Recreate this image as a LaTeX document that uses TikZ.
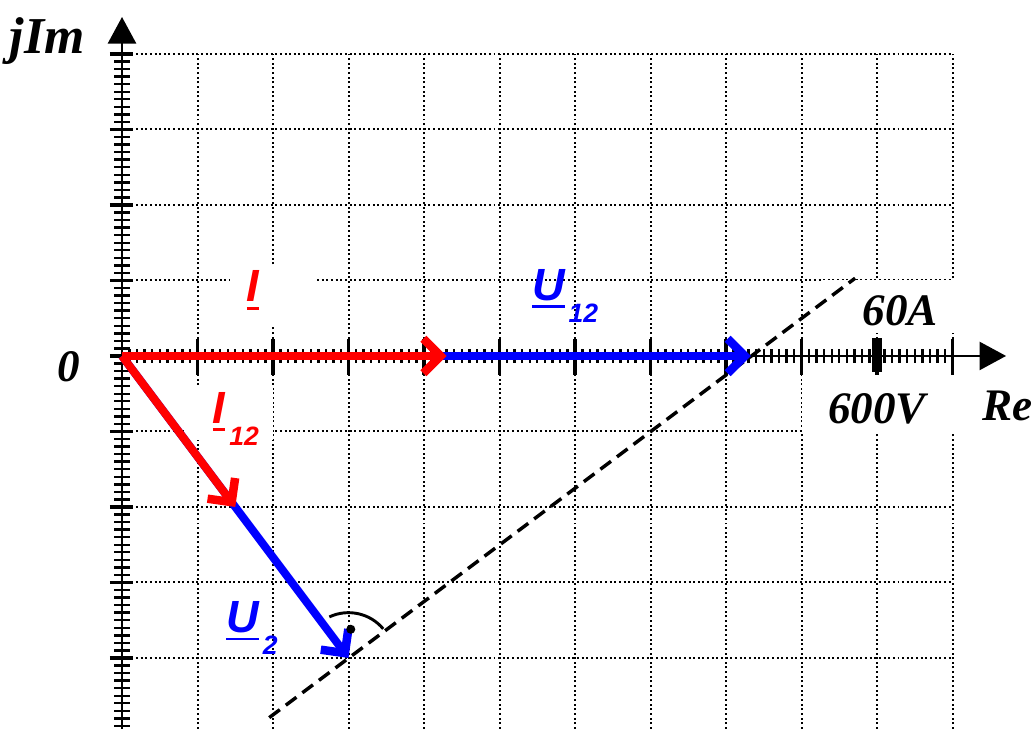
\documentclass[tikz,border=0pt]{standalone}
\usepackage{fontspec}
\setmainfont{Liberation Serif}
\newfontfamily\vecfont{Liberation Sans}
\usepackage{tikz}
\usetikzlibrary{arrows.meta}

% etichetta di vettore: lettera sottolineata con pedice
\newcommand{\sottolinea}[1]{\setbox0\hbox{#1}\rlap{\rule[-3pt]{\wd0}{1pt}}\box0}
\newcommand{\vett}[2]{\sottolinea{#1}\kern1.5pt\raisebox{-8.3pt}{\fontsize{10}{10}\selectfont #2}}

\tikzset{
    griglia/.style={densely dotted, line width=0.75pt, black},
    asse/.style={line width=1.1pt, -{Triangle[length=10pt,width=10.5pt]}},
    tacca/.style={line width=0.9pt},
    tacca grande/.style={line width=1.3pt},
    punta/.style={-{Straight Barb[length=6.5pt,width=13pt,line width=3.2pt]}},
    vettI/.style={red, line width=3pt, punta},
    vettU/.style={blue, line width=3pt, punta},
    ortogonale/.style={line width=1.3pt, dash pattern=on 5pt off 2.8pt},
    sfondo/.style={fill=white, draw=none},
    etiasse/.style={font=\bfseries\itshape\fontsize{17}{18}\selectfont, inner sep=0pt},
    etivett/.style={font=\vecfont\bfseries\itshape\fontsize{17}{18}\selectfont, inner sep=0pt, anchor=base west}
}

\begin{document}
\begin{tikzpicture}[x=1cm, y=1cm, line width=0.7pt]

        \useasboundingbox (-1.616,-4.94) rectangle (12.106,4.715);

        % -----------------------------------------------------------------
        % GRIGLIA DI SFONDO
        % -----------------------------------------------------------------
        \foreach \x in {1,...,11} {
            \draw[griglia] (\x, -5) -- (\x, 4);
        }
        \foreach \y in {-4,...,4} {
            \draw[griglia] (0, \y) -- (11, \y);
        }

        % riquadri bianchi sotto le etichette
        \fill[sfondo] (1.43,0.41) rectangle (2.58,1.21);
        \fill[sfondo] (0.83,-1.11) rectangle (2.0,-0.38);
        \fill[sfondo] (9.28,0.3) rectangle (11.02,1.0);
        \fill[sfondo] (9.0,-1.02) rectangle (11.02,-0.23);

        % -----------------------------------------------------------------
        % ASSI E TACCHE
        % -----------------------------------------------------------------
        \coordinate (O) at (0,0);
        \coordinate (fineRe) at (11.71,0);
        \coordinate (fineIm) at (0,4.49);
        \coordinate (inizioIm) at (0,-5);

        \draw[asse] (O) -- (fineRe);
        \draw[asse] (inizioIm) -- (fineIm);

        \foreach \i in {1,...,110} {
            \draw[tacca] (\i/10, -0.09) -- (\i/10, 0.09);
        }
        \foreach \x in {1,...,11} {
            \draw[tacca grande] (\x, -0.25) -- (\x, 0.23);
        }
        \foreach \i in {-50,...,40} {
            \draw[tacca] (-0.105, \i/10) -- (0.105, \i/10);
        }
        \foreach \y in {-4,...,4} {
            \draw[tacca grande] (-0.16, \y) -- (0.15, \y);
        }
        % segno di scala
        \fill (9.94,-0.21) rectangle (10.07,0.24);

        \node[etiasse, anchor=base west, font=\bfseries\itshape\fontsize{19.5}{20}\selectfont] (jim) at (-1.50,4.0) {jIm};
        \node[etiasse, anchor=base] (zero) at (-0.70,-0.34) {0};
        \node[etiasse, anchor=base west] (re) at (11.39,-0.85) {Re};
        \node[etiasse, anchor=base west] (scalaA) at (9.80,0.41) {60A};
        \node[etiasse, anchor=base west] (scalaV) at (9.34,-0.90) {600V};

        % -----------------------------------------------------------------
        % RETTA PERPENDICOLARE A U2
        % -----------------------------------------------------------------
        \coordinate (rettaA) at (1.95,-4.79);
        \coordinate (rettaB) at (9.71,1.03);
        \draw[ortogonale] (rettaA) -- (rettaB);

        % -----------------------------------------------------------------
        % VETTORI
        % -----------------------------------------------------------------
        \coordinate (Itip) at (4.3,0);
        \coordinate (U12tip) at (8.33,0);
        \coordinate (U2tip) at (3,-4);
        \coordinate (I12tip) at (1.5,-2);

        \draw[vettU] (O) -- (U2tip);
        \draw[vettI] (O) -- (I12tip);
        \draw[vettU, shorten <=-8pt] (Itip) -- (U12tip);
        \draw[vettI] (O) -- (Itip);

        % angolo retto
        \draw[line width=1.1pt] ([shift={(40:0.6)}]U2tip) arc (40:115:0.6);
        \fill ([shift={(0.03,0.38)}]U2tip) circle (0.06);

        \node[etivett, red] (labI) at (1.64,0.72) {\sottolinea{I}};
        \node[etivett, blue] (labU12) at (5.42,0.74) {\vett{U}{12}};
        \node[etivett, red] (labI12) at (1.19,-0.89) {\vett{I}{12}};
        \node[etivett, blue] (labU2) at (1.37,-3.66) {\vett{U}{2}};

\end{tikzpicture}
\end{document}
